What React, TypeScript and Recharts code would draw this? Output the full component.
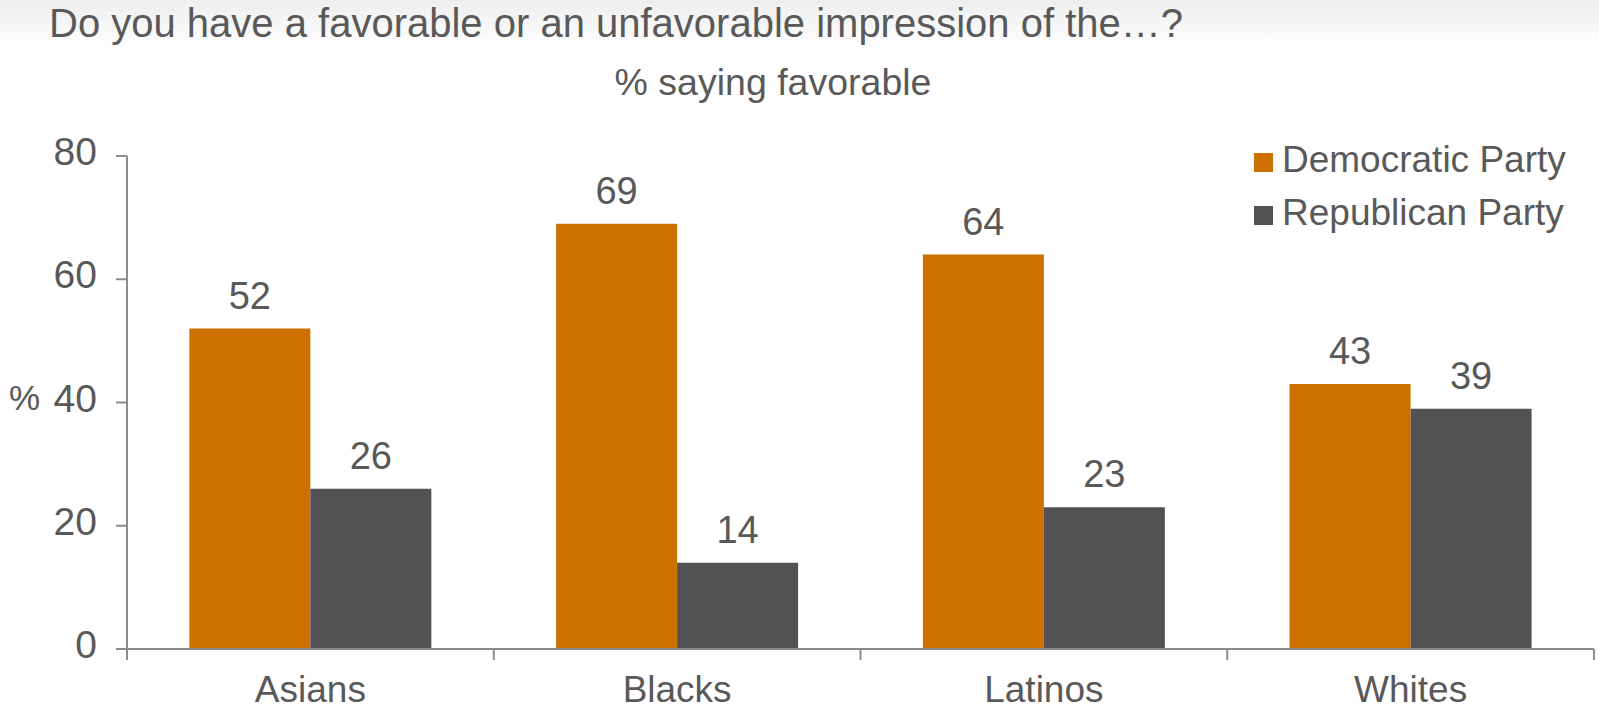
import React from 'react';
import { BarChart, Bar, XAxis, YAxis, LabelList } from 'recharts';

const categories = ['Asians', 'Blacks', 'Latinos', 'Whites'];
const democraticValues = [52, 69, 64, 43];
const republicanValues = [26, 14, 23, 39];
const yTicks = [0, 20, 40, 60, 80];
const seriesNames = ['Democratic Party', 'Republican Party'];
const titleText = 'Do you have a favorable or an unfavorable impression of the…?';
const subtitleText = '% saying favorable';
const yUnitText = '%';

const W = 1599;
const H = 710;
const MARGIN = { top: 156, right: 5, left: 0, bottom: 0 };
const YAXIS_W = 127;
const XAXIS_H = 61;
const DEM = '#CC7000';
const REP = '#525254';
const TEXT = '#595959';
const AXIS = '#8c8c8c';
const FONT = '"Liberation Sans", Arial, sans-serif';

const data = categories.map((c, i) => ({
  name: c,
  dem: democraticValues[i],
  rep: republicanValues[i],
}));

const BAND = (W - MARGIN.right - YAXIS_W) / categories.length;

function SText({ x, y, size, anchor = 'start', sx = 1, children }: any) {
  return (
    <text
      transform={`translate(${x},${y}) scale(${sx},1)`}
      x={0}
      y={0}
      fontSize={size}
      fontFamily={FONT}
      fill={TEXT}
      textAnchor={anchor}
    >
      {children}
    </text>
  );
}

function XTick(props: any) {
  const { x, y, payload, index } = props;
  const last = index === categories.length - 1;
  return (
    <g>
      <line x1={x - BAND / 2} x2={x - BAND / 2} y1={y} y2={y + 11} stroke={AXIS} strokeWidth={2} />
      {last && (
        <line x1={x + BAND / 2} x2={x + BAND / 2} y1={y} y2={y + 11} stroke={AXIS} strokeWidth={2} />
      )}
      <SText x={x} y={y + 53} size={37} anchor="middle">
        {payload.value}
      </SText>
    </g>
  );
}

function YTick(props: any) {
  const { x, y, payload } = props;
  return (
    <SText x={x} y={y + 9} size={39} anchor="end">
      {payload.value}
    </SText>
  );
}

function BarLabel(props: any) {
  const { x, y, width, value } = props;
  return (
    <SText x={Number(x) + Number(width) / 2} y={Number(y) - 20} size={38} anchor="middle">
      {value}
    </SText>
  );
}

export default function App() {
  return (
    <div
      style={{
        position: 'absolute',
        left: 0,
        top: 0,
        width: W,
        height: H,
        background: 'linear-gradient(to bottom, #eeeeee 0px, #ffffff 50px, #ffffff 100%)',
        fontFamily: FONT,
      }}
    >
      <BarChart
        width={W}
        height={H}
        data={data}
        margin={MARGIN}
        barCategoryGap="17%"
        barGap={0}
      >
        <XAxis
          dataKey="name"
          height={XAXIS_H}
          axisLine={{ stroke: AXIS, strokeWidth: 2 }}
          tickLine={false}
          tickSize={0}
          tickMargin={0}
          tick={<XTick />}
          interval={0}
        />
        <YAxis
          width={YAXIS_W}
          domain={[0, 80]}
          ticks={yTicks}
          interval={0}
          axisLine={{ stroke: AXIS, strokeWidth: 2 }}
          tickLine={{ stroke: AXIS, strokeWidth: 2 }}
          tickSize={11}
          tickMargin={19}
          tick={<YTick />}
        />
        <Bar dataKey="dem" name={seriesNames[0]} fill={DEM} isAnimationActive={false}>
          <LabelList dataKey="dem" content={<BarLabel />} />
        </Bar>
        <Bar dataKey="rep" name={seriesNames[1]} fill={REP} isAnimationActive={false}>
          <LabelList dataKey="rep" content={<BarLabel />} />
        </Bar>
      </BarChart>
      <svg
        width={W}
        height={H}
        style={{ position: 'absolute', left: 0, top: 0, pointerEvents: 'none' }}
      >
        <SText x={49} y={37} size={40}>{titleText}</SText>
        <SText x={773} y={95} size={37.5} anchor="middle">{subtitleText}</SText>
        <SText x={9} y={410} size={35}>{yUnitText}</SText>
        <rect x={1254} y={153} width={19} height={19} fill={DEM} />
        <SText x={1282} y={172} size={37}>{seriesNames[0]}</SText>
        <rect x={1254} y={206} width={19} height={19} fill={REP} />
        <SText x={1282} y={225} size={37}>{seriesNames[1]}</SText>
      </svg>
    </div>
  );
}
